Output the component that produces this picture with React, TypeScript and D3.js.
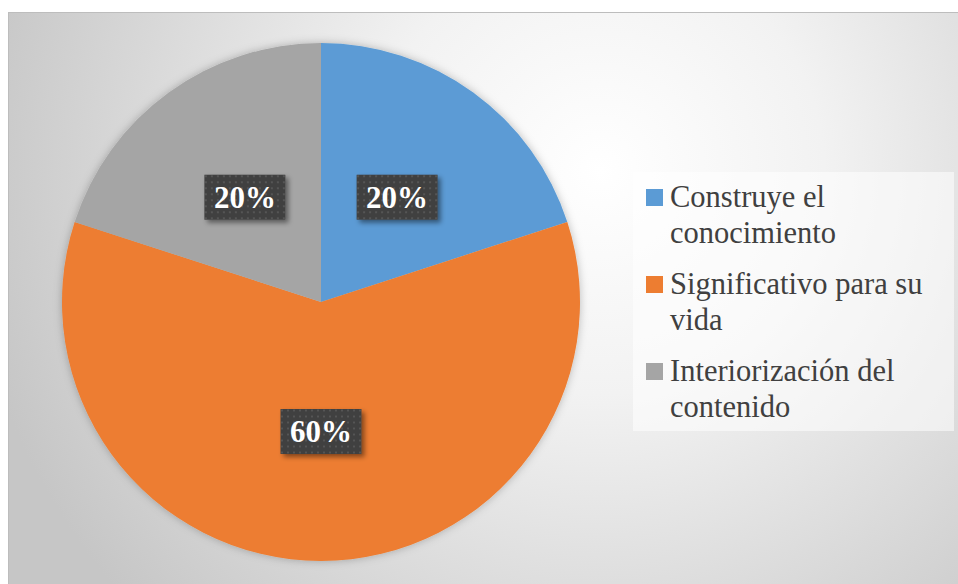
import React from "react";
import * as d3 from "d3";

const categories = ["Construye el conocimiento", "Significativo para su vida", "Interiorización del contenido"];
const values = [20, 60, 20];
const legendLines = [["Construye el", "conocimiento"], ["Significativo para su", "vida"], ["Interiorización del", "contenido"]];
const colors = ["#5B9BD5", "#ED7D31", "#A5A5A5"];

export default function App() {
  const W = 958, H = 584;
  const cx = 321, cy = 302, r = 259;
  const pie = d3.pie<number>().sort(null).value((d) => d)(values);
  const arc = d3.arc<d3.PieArcDatum<number>>().innerRadius(0).outerRadius(r);
  const total = d3.sum(values);
  const fmt = (v: number) => `${Math.round((v / total) * 100)}%`;
  const labelArc = d3.arc<d3.PieArcDatum<number>>().innerRadius(r * 0.5).outerRadius(r * 0.5);
  const ff = "'Liberation Serif', 'Times New Roman', Tinos, serif";

  return (
    <svg width={W} height={H} style={{ position: "absolute", left: 0, top: 0 }}>
      <defs>
        <radialGradient id="bg" gradientUnits="userSpaceOnUse" cx={600} cy={170} r={640}>
          <stop offset="0" stopColor="#ffffff" />
          <stop offset="0.35" stopColor="#f2f2f2" />
          <stop offset="1" stopColor="#c6c6c6" />
        </radialGradient>
        <pattern id="dots" width={6} height={6} patternUnits="userSpaceOnUse">
          <rect width={6} height={6} fill="#404040" />
          <rect x={2} y={2} width={2} height={2} fill="#555555" />
        </pattern>
        <filter id="pieShadow" x="-10%" y="-10%" width="120%" height="120%">
          <feDropShadow dx={0} dy={0} stdDeviation={4} floodColor="#000" floodOpacity={0.25} />
        </filter>
        <filter id="boxShadow" x="-20%" y="-20%" width="150%" height="160%">
          <feDropShadow dx={3} dy={3} stdDeviation={2.5} floodColor="#000" floodOpacity={0.45} />
        </filter>
      </defs>
      <rect x={0} y={0} width={W} height={H} fill="#ffffff" />
      <rect x={8} y={12} width={W - 8} height={H - 12} fill="url(#bg)" />
      <line x1={8.5} y1={12} x2={8.5} y2={H} stroke="#bdbdbd" />
      <line x1={8} y1={12.5} x2={W} y2={12.5} stroke="#bdbdbd" />
      <g transform={`translate(${cx},${cy})`}>
        <g filter="url(#pieShadow)">
          {pie.map((d, i) => (
            <path key={i} d={arc(d) || ""} fill={colors[i]} />
          ))}
        </g>
        {pie.map((d, i) => {
          const [lx, ly] = labelArc.centroid(d);
          const bw = 81, bh = 45;
          return (
            <g key={"l" + i} transform={`translate(${lx},${ly})`}>
              <rect x={-bw / 2} y={-bh / 2} width={bw} height={bh} fill="url(#dots)" filter="url(#boxShadow)" />
              <text x={0} y={10.5} textAnchor="middle" fill="#ffffff" style={{ fontFamily: ff, fontSize: 31, fontWeight: 700 }}>
                {fmt(values[i])}
              </text>
            </g>
          );
        })}
      </g>
      <rect x={633} y={172} width={321} height={259} fill="#ffffff" fillOpacity={0.55} />
      {legendLines.map((lines, i) => {
        const y0 = 207 + i * 87;
        return (
          <g key={"lg" + i}>
            <rect x={646} y={y0 - 18} width={17} height={17} fill={colors[i]} />
            {lines.map((ln, j) => (
              <text key={j} x={670} y={y0 + j * 36} fill="#404040" style={{ fontFamily: ff, fontSize: 30.5 }}>
                {ln}
              </text>
            ))}
          </g>
        );
      })}
    </svg>
  );
}
